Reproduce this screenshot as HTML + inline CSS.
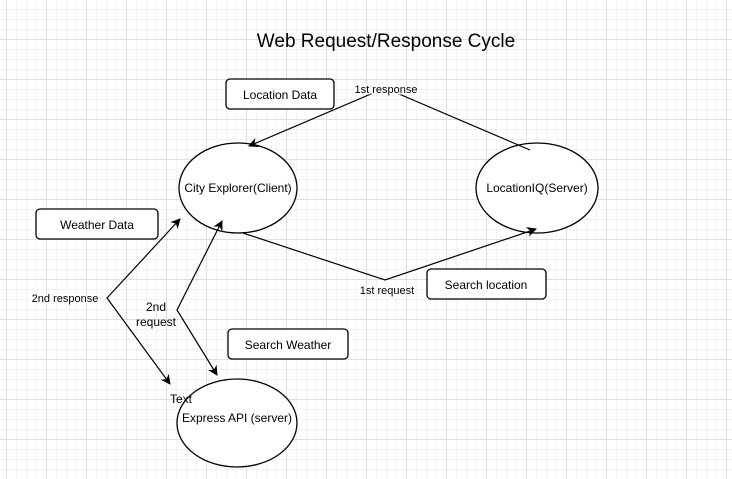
<!DOCTYPE html>
<html><head><style>
html,body{margin:0;padding:0;}
body{width:732px;height:479px;overflow:hidden;background:#fff;
background-image:
linear-gradient(to right,#dedede 1px,transparent 1px),
linear-gradient(to bottom,#dedede 1px,transparent 1px),
linear-gradient(to right,#f3f3f3 1px,transparent 1px),
linear-gradient(to bottom,#f3f3f3 1px,transparent 1px);
background-size:40px 40px,40px 40px,10px 10px,10px 10px;
background-position:6px 39px,6px 39px,6px 9px,6px 9px;
font-family:"Liberation Sans",Helvetica,sans-serif;}
</style></head><body>
<svg width="732" height="479" style="position:absolute;left:0;top:0" font-family="Liberation Sans, Helvetica, sans-serif">
<defs><marker id="a" markerWidth="10" markerHeight="10" refX="9" refY="5" orient="auto-start-reverse" markerUnits="userSpaceOnUse"><path d="M0,0 L10,5 L0,10 L3,5 Z" fill="#000"/></marker></defs>
<text x="386" y="47" font-size="19" text-anchor="middle">Web Request/Response Cycle</text>
<g fill="#fff" stroke="#000" stroke-width="1.3">
<rect x="226" y="79" width="108" height="30" rx="4"/>
<rect x="36" y="209" width="122" height="30" rx="4"/>
<rect x="427" y="269" width="119" height="30" rx="4"/>
<rect x="228" y="329" width="120" height="30" rx="4"/>
<ellipse cx="238" cy="188" rx="59" ry="45"/>
<ellipse cx="537" cy="188" rx="61" ry="45"/>
<ellipse cx="237" cy="423" rx="60" ry="44"/>
</g>
<g fill="none" stroke="#000" stroke-width="1.2">
<polyline points="530,150 385,88 249,146" marker-end="url(#a)"/>
<polyline points="243,233 385,280 536,229" marker-end="url(#a)"/>
<polyline points="170,384 107,298 180,219" marker-end="url(#a)" marker-start="url(#a)"/>
<polyline points="217,375 177,310 222,221" marker-end="url(#a)" marker-start="url(#a)"/>
</g>
<g font-size="12" text-anchor="middle">
<text x="280" y="99">Location Data</text>
<text x="97" y="229">Weather Data</text>
<text x="486" y="289">Search location</text>
<text x="288" y="349">Search Weather</text>
<text x="238" y="192">City Explorer(Client)</text>
<text x="537" y="192">LocationIQ(Server)</text>
<text x="237" y="422">Express API (server)</text>
<text x="181" y="403">Text</text>
</g>
<g font-size="11" text-anchor="middle">
<text x="386" y="93" stroke="#fff" stroke-width="3" paint-order="stroke">1st response</text>
<text x="387" y="294" stroke="#fff" stroke-width="3" paint-order="stroke">1st request</text>
<text x="65" y="302" stroke="#fff" stroke-width="3" paint-order="stroke">2nd response</text>
<text x="156" y="311" font-size="12">2nd</text>
<text x="156" y="326" font-size="12">request</text>
</g>
</svg>
</body></html>
